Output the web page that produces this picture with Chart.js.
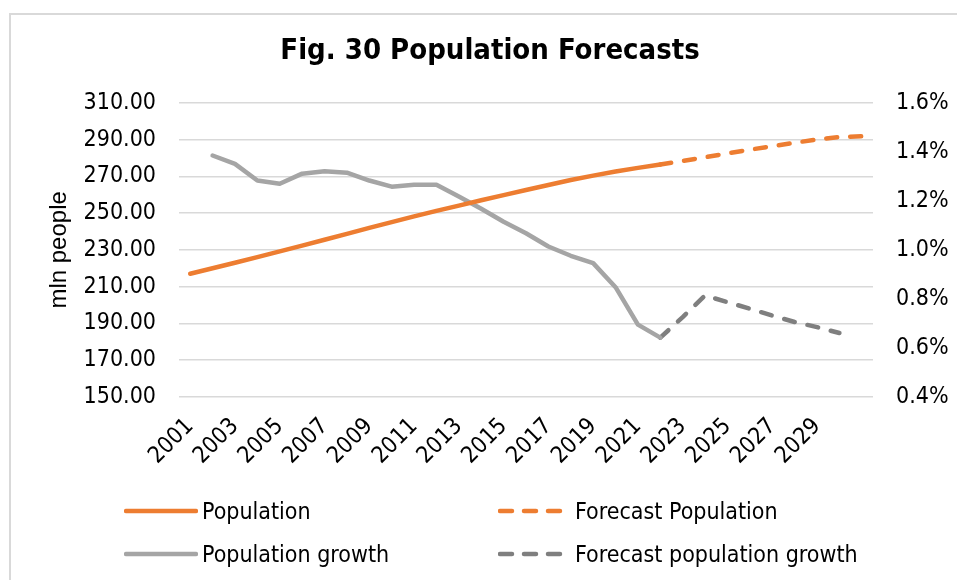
<!DOCTYPE html>
<html>
<head>
<meta charset="utf-8">
<script src="https://cdn.jsdelivr.net/npm/chart.js@4.4.1/dist/chart.umd.min.js"></script>
<style>
  html, body { margin: 0; padding: 0; background: #fff; overflow: hidden; width: 957px; height: 580px; }
  #wrap { position: relative; width: 957px; height: 580px; }
  #frame { position: absolute; left: 9px; top: 13px; width: 1000px; height: 700px; border: 2px solid #d9d9d9; box-sizing: border-box; }
  #c { position: absolute; left: 0; top: 0; }
  .lg { position: absolute; font-family: 'DejaVu Sans Condensed', 'DejaVu Sans', sans-serif; font-size: 23px; line-height: 26px; color: #000; white-space: nowrap; }
  .sw { position: absolute; }
</style>
</head>
<body>
<div id="wrap">
  <div id="frame"></div>
  <canvas id="c" width="957" height="580"></canvas>
  <div id="legend"></div>
</div>
<script>
// Years on the category axis
const years = ['2001','2002','2003','2004','2005','2006','2007','2008','2009','2010',
               '2011','2012','2013','2014','2015','2016','2017','2018','2019','2020',
               '2021','2022','2023','2024','2025','2026','2027','2028','2029','2030','2031'];

// Population, mln people (actual, then forecast from 2022)
const population = [217.0, 220.0, 223.0, 226.1, 229.2, 232.3, 235.5, 238.7, 242.0, 245.1,
                    248.2, 251.2, 254.1, 257.0, 259.8, 262.6, 265.3, 268.0, 270.4, 272.6,
                    274.6, 276.4, null, null, null, null, null, null, null, null, null];
const populationForecast = [null, null, null, null, null, null, null, null, null, null,
                    null, null, null, null, null, null, null, null, null, null,
                    null, 276.4, 278.4, 280.4, 282.5, 284.5, 286.4, 288.3, 290.0, 291.4, 291.8];

// Population growth, % per year (actual, then forecast from 2022)
const growth = [null, 1.385, 1.351, 1.283, 1.270, 1.311, 1.321, 1.315, 1.283, 1.258,
                1.266, 1.266, 1.218, 1.168, 1.115, 1.068, 1.014, 0.976, 0.946, 0.848,
                0.695, 0.642, null, null, null, null, null, null, null, null, null];
const growthForecast = [null, null, null, null, null, null, null, null, null, null,
                null, null, null, null, null, null, null, null, null, null,
                null, 0.642, 0.726, 0.814, 0.787, 0.760, 0.732, 0.706, 0.685, 0.661, null];

// Axis tick settings
const leftTicks = { min: 150, max: 310, step: 20 };
const rightTicks = { min: 0.4, max: 1.6, step: 0.2 };

const FONT = "'DejaVu Sans Condensed', 'DejaVu Sans', sans-serif";
Chart.defaults.font.family = FONT;
Chart.defaults.color = '#000';

const ORANGE = '#ed7d31';
const GREY = '#a5a5a5';
const DARK_GREY = '#7f7f7f';

function lineStyle(color, dashed) {
  return {
    borderColor: color,
    backgroundColor: color,
    borderWidth: 4.5,
    borderCapStyle: 'round',
    borderJoinStyle: 'round',
    borderDash: dashed ? [11, 13] : [],
    pointRadius: 0,
    pointHoverRadius: 0,
    tension: 0,
    fill: false,
    spanGaps: false
  };
}

const datasets = [
  Object.assign({ label: 'Population', data: population, yAxisID: 'y' }, lineStyle(ORANGE, false)),
  Object.assign({ label: 'Forecast Population', data: populationForecast, yAxisID: 'y' }, lineStyle(ORANGE, true)),
  Object.assign({ label: 'Population growth', data: growth, yAxisID: 'y1' }, lineStyle(GREY, false)),
  Object.assign({ label: 'Forecast population growth', data: growthForecast, yAxisID: 'y1' }, lineStyle(DARK_GREY, true))
];

new Chart(document.getElementById('c'), {
  type: 'line',
  data: { labels: years, datasets: datasets },
  options: {
    responsive: false,
    animation: false,
    events: [],
    layout: { padding: { left: 23, right: 0, top: 0, bottom: 103 } },
    plugins: {
      legend: { display: false },
      tooltip: { enabled: false },
      title: {
        display: true,
        text: 'Fig. 30 Population Forecasts',
        color: '#000',
        font: { family: FONT, size: 29, weight: 'bold' },
        padding: { top: 34, bottom: 34 }
      }
    },
    scales: {
      x: {
        type: 'category',
        offset: true,
        grid: { display: false, drawTicks: false },
        border: { display: false },
        ticks: {
          autoSkip: false,
          minRotation: 45,
          maxRotation: 45,
          padding: 16,
          font: { size: 23 },
          callback: function (v, i) { return (i % 2 === 0 && i < 30) ? this.getLabelForValue(v) : ''; }
        },
        afterFit: function (s) { s.height = 80; }
      },
      y: {
        position: 'left',
        min: leftTicks.min,
        max: leftTicks.max,
        grid: { color: '#d9d9d9', lineWidth: 1.5, drawTicks: false },
        border: { display: false },
        ticks: {
          stepSize: leftTicks.step,
          padding: 23,
          font: { size: 23 },
          callback: function (v) { return v.toFixed(2); }
        },
        title: {
          display: true,
          text: 'mln people',
          color: '#000',
          font: { family: "'Liberation Sans', Arial, sans-serif", size: 24 },
          padding: { top: 22, bottom: 0 }
        },
        afterFit: function (s) { s.width = 156; }
      },
      y1: {
        position: 'right',
        min: rightTicks.min,
        max: rightTicks.max,
        grid: { display: false, drawTicks: false },
        border: { display: false },
        ticks: {
          stepSize: rightTicks.step,
          padding: 23,
          font: { size: 23 },
          callback: function (v) { return v.toFixed(1) + '%'; }
        },
        afterFit: function (s) { s.width = 84; }
      }
    }
  }
});

// Legend below the plot, two columns
const legendItems = [
  { text: 'Population', color: ORANGE, dashed: false, x: 124, y: 511 },
  { text: 'Forecast Population', color: ORANGE, dashed: true, x: 498, y: 511 },
  { text: 'Population growth', color: GREY, dashed: false, x: 124, y: 554 },
  { text: 'Forecast population growth', color: DARK_GREY, dashed: true, x: 498, y: 554 }
];
const legendEl = document.getElementById('legend');
legendItems.forEach(function (it) {
  const w = it.dashed ? 66 : 74;
  const sw = document.createElementNS('http://www.w3.org/2000/svg', 'svg');
  sw.setAttribute('class', 'sw');
  sw.setAttribute('width', w);
  sw.setAttribute('height', 10);
  sw.style.left = it.x + 'px';
  sw.style.top = (it.y - 5) + 'px';
  const ln = document.createElementNS('http://www.w3.org/2000/svg', 'line');
  ln.setAttribute('x1', 2); ln.setAttribute('y1', 5);
  ln.setAttribute('x2', w - 2); ln.setAttribute('y2', 5);
  ln.setAttribute('stroke', it.color);
  ln.setAttribute('stroke-width', 4.5);
  ln.setAttribute('stroke-linecap', 'round');
  if (it.dashed) ln.setAttribute('stroke-dasharray', '12 12');
  sw.appendChild(ln);
  legendEl.appendChild(sw);
  const t = document.createElement('div');
  t.className = 'lg';
  t.textContent = it.text;
  t.style.left = (it.x + (it.dashed ? 77 : 78)) + 'px';
  t.style.top = (it.y - 13) + 'px';
  legendEl.appendChild(t);
});
</script>
</body>
</html>
